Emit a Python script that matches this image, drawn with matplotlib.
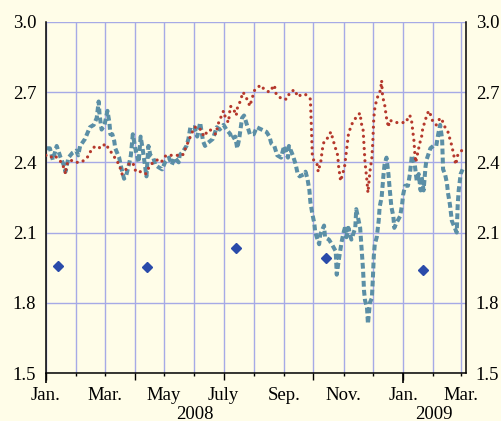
import numpy as np
import pandas as pd
import matplotlib
matplotlib.use('Agg')
import matplotlib.pyplot as plt
import matplotlib.dates as mdates

plt.rcParams['font.family'] = ['Liberation Serif', 'DejaVu Serif']
plt.rcParams['font.size'] = 13.5
plt.rcParams['lines.scale_dashes'] = False

# Daily series, dashed blue
blue_dates = [
    '2008-01-02', '2008-01-05', '2008-01-08', '2008-01-12', '2008-01-16', '2008-01-19', '2008-01-21',
    '2008-01-24', '2008-01-28', '2008-02-01', '2008-02-03', '2008-02-05', '2008-02-10', '2008-02-15',
    '2008-02-19', '2008-02-22', '2008-02-24', '2008-02-25', '2008-02-27', '2008-03-01', '2008-03-04',
    '2008-03-06', '2008-03-07', '2008-03-09', '2008-03-11', '2008-03-12', '2008-03-16', '2008-03-18',
    '2008-03-21', '2008-03-23', '2008-03-26', '2008-03-28', '2008-03-30', '2008-04-02', '2008-04-05',
    '2008-04-07', '2008-04-09', '2008-04-11', '2008-04-13', '2008-04-15', '2008-04-17', '2008-04-20',
    '2008-04-22', '2008-04-25', '2008-04-29', '2008-05-02', '2008-05-06', '2008-05-09', '2008-05-12',
    '2008-05-16', '2008-05-17', '2008-05-21', '2008-05-24', '2008-05-26', '2008-05-28', '2008-06-01',
    '2008-06-04', '2008-06-07', '2008-06-10', '2008-06-12', '2008-06-14', '2008-06-17', '2008-06-20',
    '2008-06-24', '2008-06-27', '2008-07-01', '2008-07-04', '2008-07-08', '2008-07-09', '2008-07-13',
    '2008-07-15', '2008-07-17', '2008-07-20', '2008-07-22', '2008-07-25', '2008-07-28', '2008-08-01',
    '2008-08-04', '2008-08-09', '2008-08-14', '2008-08-17', '2008-08-19', '2008-08-22', '2008-08-25',
    '2008-08-29', '2008-09-01', '2008-09-05', '2008-09-06', '2008-09-10', '2008-09-13', '2008-09-15',
    '2008-09-17', '2008-09-22', '2008-09-23', '2008-09-25', '2008-09-27', '2008-09-28', '2008-09-30',
    '2008-10-02', '2008-10-03', '2008-10-07', '2008-10-08', '2008-10-12', '2008-10-13', '2008-10-17',
    '2008-10-20', '2008-10-24', '2008-10-25', '2008-10-27', '2008-10-30', '2008-11-01', '2008-11-03',
    '2008-11-04', '2008-11-06', '2008-11-09', '2008-11-13', '2008-11-14', '2008-11-18', '2008-11-21',
    '2008-11-22', '2008-11-23', '2008-11-25', '2008-11-26', '2008-11-28', '2008-11-30', '2008-12-01',
    '2008-12-02', '2008-12-03', '2008-12-05', '2008-12-07', '2008-12-08', '2008-12-10', '2008-12-11',
    '2008-12-12', '2008-12-13', '2008-12-15', '2008-12-17', '2008-12-18', '2008-12-20', '2008-12-22',
    '2008-12-23', '2008-12-25', '2008-12-29', '2008-12-31', '2009-01-01', '2009-01-03', '2009-01-06',
    '2009-01-08', '2009-01-10', '2009-01-13', '2009-01-15', '2009-01-17', '2009-01-19', '2009-01-20',
    '2009-01-22', '2009-01-24', '2009-01-25', '2009-01-29', '2009-02-01', '2009-02-04', '2009-02-06',
    '2009-02-08', '2009-02-10', '2009-02-11', '2009-02-13', '2009-02-15', '2009-02-16', '2009-02-18',
    '2009-02-20', '2009-02-23', '2009-02-25', '2009-02-26', '2009-02-27', '2009-03-01', '2009-03-03',
]
blue_vals = [
    2.46, 2.46, 2.41, 2.47, 2.42, 2.39, 2.36,
    2.42, 2.44, 2.45, 2.43, 2.47, 2.50, 2.55,
    2.56, 2.59, 2.66, 2.60, 2.54, 2.56, 2.62,
    2.57, 2.52, 2.52, 2.49, 2.46, 2.42, 2.38,
    2.33, 2.34, 2.39, 2.43, 2.52, 2.45, 2.40,
    2.51, 2.46, 2.40, 2.34, 2.47, 2.43, 2.42,
    2.39, 2.38, 2.37, 2.40, 2.42, 2.39, 2.42,
    2.40, 2.43, 2.45, 2.47, 2.50, 2.55, 2.55,
    2.51, 2.57, 2.49, 2.47, 2.48, 2.49, 2.50,
    2.55, 2.54, 2.56, 2.54, 2.52, 2.50, 2.51,
    2.46, 2.50, 2.59, 2.60, 2.56, 2.52, 2.52,
    2.55, 2.54, 2.53, 2.51, 2.48, 2.47, 2.43,
    2.42, 2.47, 2.42, 2.47, 2.43, 2.39, 2.35,
    2.34, 2.35, 2.36, 2.33, 2.28, 2.23, 2.18,
    2.14, 2.10, 2.05, 2.09, 2.13, 2.08, 2.07,
    2.05, 2.02, 1.92, 1.98, 2.06, 2.10, 2.13,
    2.08, 2.12, 2.07, 2.12, 2.20, 2.12, 1.94,
    1.85, 1.81, 1.78, 1.71, 1.80, 1.82, 1.90,
    2.00, 2.05, 2.08, 2.15, 2.21, 2.25, 2.30,
    2.35, 2.39, 2.42, 2.35, 2.30, 2.21, 2.17,
    2.12, 2.14, 2.17, 2.22, 2.26, 2.30, 2.30,
    2.35, 2.43, 2.39, 2.32, 2.35, 2.28, 2.34,
    2.28, 2.38, 2.41, 2.46, 2.47, 2.47, 2.52,
    2.56, 2.50, 2.37, 2.35, 2.31, 2.27, 2.22,
    2.15, 2.12, 2.10, 2.22, 2.28, 2.35, 2.37,
]

# Daily series, dotted red
red_dates = [
    '2008-01-01', '2008-01-05', '2008-01-10', '2008-01-14', '2008-01-17', '2008-01-20', '2008-01-21',
    '2008-01-22', '2008-01-26', '2008-01-31', '2008-02-05', '2008-02-10', '2008-02-14', '2008-02-17',
    '2008-02-22', '2008-02-26', '2008-03-02', '2008-03-05', '2008-03-10', '2008-03-16', '2008-03-19',
    '2008-03-23', '2008-03-27', '2008-03-31', '2008-04-02', '2008-04-07', '2008-04-12', '2008-04-17',
    '2008-04-24', '2008-04-28', '2008-05-03', '2008-05-13', '2008-05-20', '2008-05-24', '2008-05-27',
    '2008-06-01', '2008-06-06', '2008-06-11', '2008-06-14', '2008-06-17', '2008-06-23', '2008-06-26',
    '2008-06-29', '2008-07-01', '2008-07-03', '2008-07-06', '2008-07-08', '2008-07-11', '2008-07-14',
    '2008-07-15', '2008-07-18', '2008-07-21', '2008-07-25', '2008-07-28', '2008-07-30', '2008-08-02',
    '2008-08-05', '2008-08-08', '2008-08-12', '2008-08-17', '2008-08-22', '2008-08-24', '2008-08-30',
    '2008-09-04', '2008-09-07', '2008-09-12', '2008-09-15', '2008-09-19', '2008-09-23', '2008-09-28',
    '2008-09-29', '2008-09-30', '2008-10-02', '2008-10-05', '2008-10-06', '2008-10-09', '2008-10-10',
    '2008-10-12', '2008-10-15', '2008-10-19', '2008-10-21', '2008-10-23', '2008-10-26', '2008-10-27',
    '2008-10-29', '2008-11-02', '2008-11-04', '2008-11-06', '2008-11-09', '2008-11-12', '2008-11-15',
    '2008-11-18', '2008-11-19', '2008-11-21', '2008-11-22', '2008-11-23', '2008-11-25', '2008-11-26',
    '2008-11-28', '2008-11-30', '2008-12-01', '2008-12-02', '2008-12-03', '2008-12-05', '2008-12-07',
    '2008-12-09', '2008-12-10', '2008-12-11', '2008-12-13', '2008-12-15', '2008-12-17', '2008-12-18',
    '2008-12-25', '2009-01-02', '2009-01-04', '2009-01-07', '2009-01-08', '2009-01-10', '2009-01-11',
    '2009-01-12', '2009-01-13', '2009-01-14', '2009-01-16', '2009-01-18', '2009-01-20', '2009-01-21',
    '2009-01-23', '2009-01-26', '2009-01-28', '2009-01-30', '2009-02-01', '2009-02-04', '2009-02-08',
    '2009-02-10', '2009-02-13', '2009-02-16', '2009-02-18', '2009-02-20', '2009-02-22', '2009-02-24',
    '2009-02-26', '2009-03-02', '2009-03-05',
]
red_vals = [
    2.43, 2.42, 2.43, 2.41, 2.40, 2.37, 2.35,
    2.39, 2.41, 2.40, 2.40, 2.41, 2.43, 2.46,
    2.47, 2.46, 2.48, 2.46, 2.43, 2.39, 2.35,
    2.37, 2.40, 2.39, 2.36, 2.36, 2.35, 2.39,
    2.41, 2.40, 2.43, 2.43, 2.43, 2.47, 2.50,
    2.55, 2.55, 2.51, 2.53, 2.54, 2.52, 2.57,
    2.60, 2.62, 2.59, 2.57, 2.64, 2.63, 2.60,
    2.63, 2.66, 2.70, 2.67, 2.64, 2.67, 2.71,
    2.72, 2.73, 2.71, 2.70, 2.73, 2.69, 2.67,
    2.67, 2.70, 2.71, 2.68, 2.69, 2.69, 2.67,
    2.55, 2.43, 2.40, 2.39, 2.36, 2.41, 2.45,
    2.49, 2.50, 2.53, 2.50, 2.47, 2.43, 2.38,
    2.32, 2.38, 2.45, 2.52, 2.56, 2.58, 2.60,
    2.61, 2.57, 2.54, 2.47, 2.40, 2.32, 2.27,
    2.36, 2.42, 2.49, 2.59, 2.63, 2.67, 2.69,
    2.71, 2.75, 2.68, 2.65, 2.59, 2.55, 2.58,
    2.57, 2.57, 2.57, 2.60, 2.60, 2.57, 2.53,
    2.50, 2.44, 2.40, 2.44, 2.48, 2.51, 2.54,
    2.57, 2.61, 2.62, 2.59, 2.57, 2.56, 2.59,
    2.58, 2.55, 2.53, 2.50, 2.47, 2.43, 2.39,
    2.43, 2.45, 2.46,
]

# Quarterly readings (diamonds)
diamond_dates = ['2008-01-13', '2008-04-14', '2008-07-14', '2008-10-14', '2009-01-21']
diamond_vals = [1.957, 1.952, 2.034, 1.993, 1.94]

# Axis ticks and labels
y_ticks = [1.5, 1.8, 2.1, 2.4, 2.7, 3.0]
quarter_ticks = ['2008-01-01', '2008-04-01', '2008-07-01', '2008-10-01', '2009-01-01']
quarter_labels = ['Jan.', '', 'July', '', 'Jan.']
month_ticks = ['2008-02-01', '2008-03-01', '2008-05-01', '2008-06-01', '2008-08-01',
               '2008-09-01', '2008-11-01', '2008-12-01', '2009-02-01', '2009-03-01']
month_labels = ['', 'Mar.', 'May', '', '', 'Sep.', 'Nov.', '', '', 'Mar.']
year_ticks = ['2008-01-01', '2009-01-01']
year_labels = ['2008', '2009']
year_label_pos = ['2008-06-02', '2009-02-02']

def dnum(dates):
    return mdates.date2num(pd.to_datetime(dates))

bg = '#FFFDE8'
grid_c = '#A6AAE6'

fig = plt.figure(figsize=(5.02, 4.21), dpi=100, facecolor=bg)
ax = fig.add_axes([0.0916, 0.114, 0.8367, 0.834])
ax.set_facecolor(bg)

ax.plot(dnum(blue_dates), blue_vals, color='#5B8FA6', lw=2.9,
        dashes=(4.2, 2.3), dash_capstyle='butt', zorder=3)
ax.plot(dnum(red_dates), red_vals, color='#B5382C', lw=2.3,
        dashes=(0.01, 4.4), dash_capstyle='round', zorder=4)
ax.plot(dnum(diamond_dates), diamond_vals, ls='none', marker='D', ms=5.6,
        color='#2A4BAA', zorder=5)

ax.set_xlim(dnum(['2008-01-01'])[0], dnum(['2009-03-06 12:00'])[0])
ax.set_ylim(1.5, 3.0)

# y axis: labels on both sides, no tick marks
ax.set_yticks(y_ticks)
ax.set_yticklabels([f'{v:.1f}' for v in y_ticks])
ax.tick_params(axis='y', left=True, right=True, labelleft=True, labelright=True,
               length=0, pad=7)

# x axis: quarter ticks longer than month ticks
ax.set_xticks(dnum(quarter_ticks))
ax.set_xticklabels(quarter_labels)
ax.set_xticks(dnum(month_ticks), minor=True)
ax.set_xticklabels(month_labels, minor=True)
ax.tick_params(axis='x', which='major', direction='out', length=5, width=1, pad=5)
ax.tick_params(axis='x', which='minor', direction='out', length=2.2, width=1, pad=7.8)

# year ticks
sec = ax.secondary_xaxis('bottom')
sec.set_xticks(dnum(year_ticks))
sec.tick_params(axis='x', direction='out', length=7.4, width=1.2, labelbottom=False)
sec.spines['bottom'].set_visible(False)

for d, lab in zip(dnum(year_label_pos), year_labels):
    ax.annotate(lab, xy=(d, 0), xycoords=('data', 'axes fraction'),
                xytext=(0, -24), textcoords='offset points',
                ha='center', va='top')

ax.grid(True, which='both', axis='x', color=grid_c, lw=1.0)
ax.grid(True, which='major', axis='y', color=grid_c, lw=1.0)
ax.set_axisbelow(True)

ax.spines['top'].set_visible(False)
for s in ['left', 'right', 'bottom']:
    ax.spines[s].set_color('black')
    ax.spines[s].set_linewidth(1.1)

fig.savefig('out.png', dpi=100, facecolor=bg)
